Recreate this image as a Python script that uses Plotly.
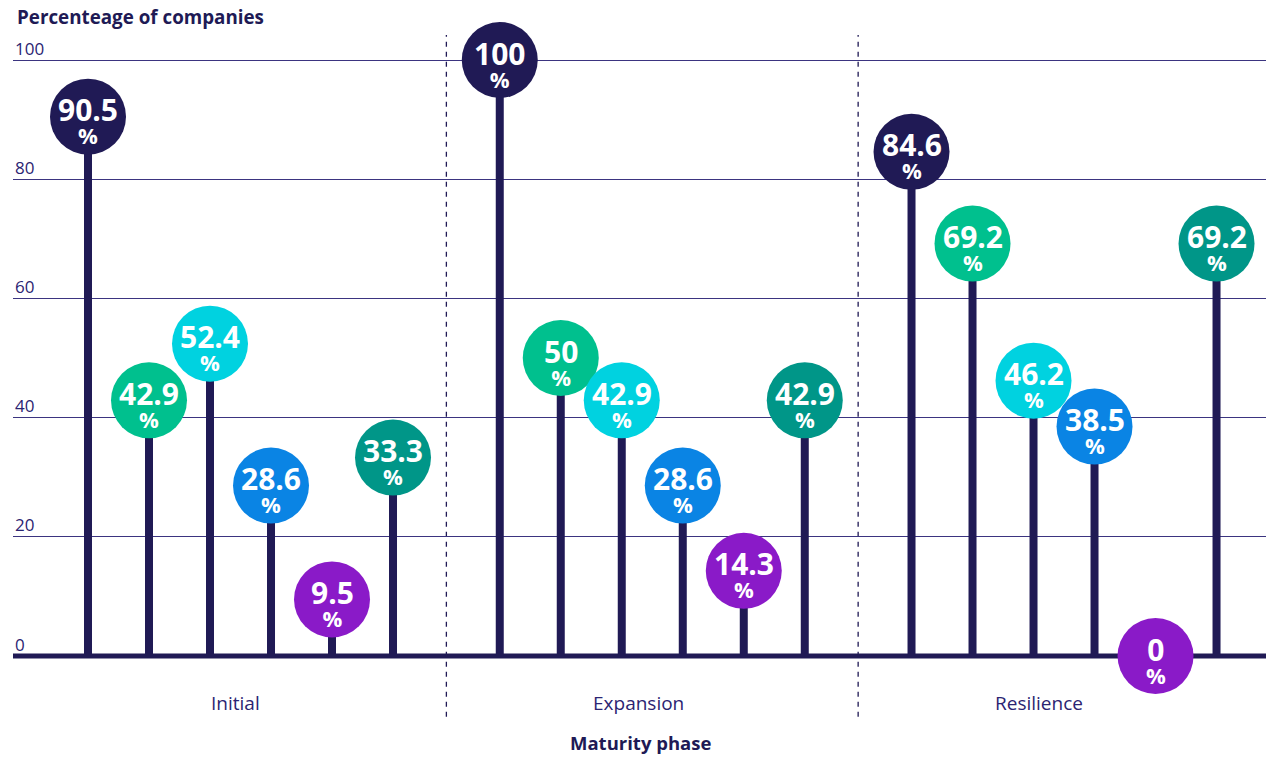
import plotly.graph_objects as go

# ---- data ----
groups = ["Initial", "Expansion", "Resilience"]
initial = [90.5, 42.9, 52.4, 28.6, 9.5, 33.3]
expansion = [100, 50, 42.9, 28.6, 14.3, 42.9]
resilience = [84.6, 69.2, 46.2, 38.5, 0, 69.2]
series_values = [initial, expansion, resilience]
y_ticks = [0, 20, 40, 60, 80, 100]

# ---- style ----
NAVY = "#201a55"
item_colors = ["#201a55", "#00c08e", "#00d2e0", "#0a84e4", "#8a1ac8", "#009688"]
FONT = "Open Sans"
GROUP_GAP = 6.75          # distance between first items of consecutive groups
label_offsets = [-0.09, -0.23, -0.41]  # category label nudges relative to group centre

xs, ys, cols, texts = [], [], [], []
for g, vals in enumerate(series_values):
    for i, v in enumerate(vals):
        xs.append(g * GROUP_GAP + i)
        ys.append(v)
        cols.append(item_colors[i])
        texts.append(f"{v:g}")

# stems
sx, sy = [], []
for x, y in zip(xs, ys):
    if y > 0:
        sx += [x, x, None]
        sy += [0, y, None]

fig = go.Figure()
fig.add_trace(go.Scatter(x=sx, y=sy, mode="lines",
                         line=dict(color=NAVY, width=8), hoverinfo="skip",
                         showlegend=False, cliponaxis=False))
fig.add_trace(go.Scatter(x=xs, y=ys, mode="markers",
                         marker=dict(size=76, color=cols, line=dict(width=0), opacity=1),
                         showlegend=False, cliponaxis=False))

annotations = []
for x, y, t in zip(xs, ys, texts):
    annotations.append(dict(
        x=x, y=y, xref="x", yref="y",
        text=(f"<span style='font-size:30px'><b>{t}</b></span><br>"
              f"<span style='font-size:22px'><b>%</b></span>"),
        showarrow=False, yshift=-3, yanchor="middle",
        font=dict(family=FONT, size=18, color="white")))

# y tick labels (above gridlines, left aligned)
for t in y_ticks:
    annotations.append(dict(x=0, y=t, xref="paper", yref="y", text=str(t),
                            showarrow=False, xanchor="left", yanchor="middle", yshift=12,
                            font=dict(family=FONT, size=17, color="#2b2472")))

# category labels
for g, name in enumerate(groups):
    cx = g * GROUP_GAP + 2.5 + label_offsets[g]
    annotations.append(dict(x=cx, y=-7.9, xref="x", yref="y", text=name,
                            showarrow=False, yanchor="middle",
                            font=dict(family=FONT, size=19, color="#2b2472")))

annotations.append(dict(x=0.5004, y=0.0095, xref="paper", yref="paper",
                        text="<b>Maturity phase</b>", showarrow=False,
                        xanchor="center", yanchor="middle",
                        font=dict(family=FONT, size=18.5, color=NAVY)))
annotations.append(dict(x=0.0015, y=0.9905, xref="paper", yref="paper",
                        text="<b>Percenteage of companies</b>", showarrow=False,
                        xanchor="left", yanchor="middle",
                        font=dict(family=FONT, size=18.8, color=NAVY)))

shapes = []
# separators
for g in range(1, len(groups)):
    sep = g * GROUP_GAP - (GROUP_GAP - 5) / 2
    shapes.append(dict(type="line", xref="x", yref="y", x0=sep, x1=sep, y0=-10.2, y1=104.2,
                       line=dict(color=NAVY, width=1.3, dash="5px,5px"), layer="below"))
# zero line
shapes.append(dict(type="line", xref="paper", yref="y", x0=0, x1=1, y0=0, y1=0,
                   line=dict(color=NAVY, width=5), layer="below"))

fig.update_layout(
    width=1274, height=757,
    margin=dict(l=13, r=8, t=10, b=7),
    paper_bgcolor="white", plot_bgcolor="white",
    xaxis=dict(range=[-1.2295, 19.311], showgrid=False, zeroline=False,
               showticklabels=False, ticks="", fixedrange=True),
    yaxis=dict(range=[-15.77, 108.39], tickvals=y_ticks[1:], showgrid=True,
               gridcolor="#3b3480", gridwidth=1.3, zeroline=False,
               showticklabels=False, ticks="", fixedrange=True),
    annotations=annotations, shapes=shapes,
    showlegend=False,
)

fig.write_html("out.html")
